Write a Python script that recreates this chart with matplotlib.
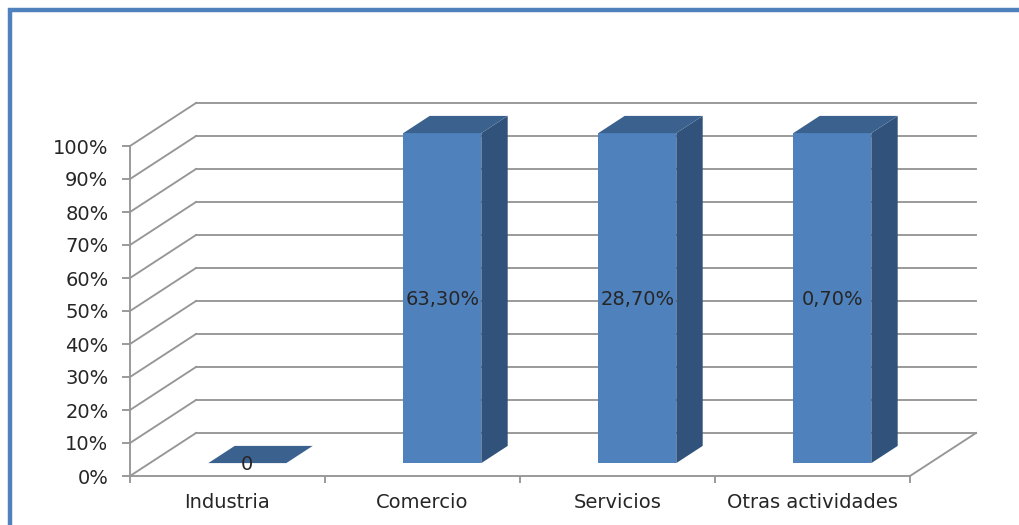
import matplotlib
matplotlib.use("Agg")
import matplotlib.pyplot as plt
from matplotlib.patches import Polygon, Rectangle

# Values
categories = ["Industria", "Comercio", "Servicios", "Otras actividades"]
bar_heights = [0, 100, 100, 100]
bar_labels = ["0", "63,30%", "28,70%", "0,70%"]
pct_ticks = [0, 10, 20, 30, 40, 50, 60, 70, 80, 90, 100]

GRID = "#969696"
FRONT = "#4F81BD"
TOP = "#3B618F"
SIDE = "#31537B"
TEXT = "#262626"
LINE_W = 1.35
FONT_SIZE = 14

# oblique offset of the 3D box, in data units
DEPTH_X = 66 / 195
DEPTH_Y = 43 / 3.3
BAR_WIDTH = 0.4
BAR_NEAR = 0.3
BAR_FAR = 0.7

plt.rcParams["font.family"] = ["DejaVu Sans"]

fig = plt.figure(figsize=(10.2, 5.25), dpi=100, facecolor="white")

# blue frame, runs off the right and bottom of the picture
fig.add_artist(Rectangle((10.5 / 1020, -0.1), 1.2, 1.1 - 10 / 525, transform=fig.transFigure,
                         facecolor="none", edgecolor=FRONT, linewidth=3.2))

ax = fig.add_axes([130 / 1020, 49 / 525, 780 / 1020, 330 / 525])
ax.set_xlim(0, len(categories))
ax.set_ylim(0, 100)
ax.patch.set_visible(False)

# walls
for p in pct_ticks:
    ax.plot([0, DEPTH_X], [p, p + DEPTH_Y], color=GRID, lw=LINE_W, clip_on=False, zorder=1)
    ax.plot([DEPTH_X, len(categories) + DEPTH_X], [p + DEPTH_Y, p + DEPTH_Y],
            color=GRID, lw=LINE_W, clip_on=False, zorder=1)
ax.plot([len(categories), len(categories) + DEPTH_X], [0, DEPTH_Y], color=GRID, lw=LINE_W,
        clip_on=False, zorder=1)

# bars
for i, (h, label) in enumerate(zip(bar_heights, bar_labels)):
    x0 = i + 0.5 - BAR_WIDTH / 2 + BAR_NEAR * DEPTH_X
    x1 = x0 + BAR_WIDTH
    y0 = BAR_NEAR * DEPTH_Y
    y1 = y0 + h
    dx = (BAR_FAR - BAR_NEAR) * DEPTH_X
    dy = (BAR_FAR - BAR_NEAR) * DEPTH_Y
    if h > 0:
        ax.add_patch(Polygon([(x1, y0), (x1 + dx, y0 + dy), (x1 + dx, y1 + dy), (x1, y1)],
                             facecolor=SIDE, edgecolor="none", clip_on=False, zorder=3))
        ax.add_patch(Rectangle((x0, y0), BAR_WIDTH, h, facecolor=FRONT, edgecolor="none",
                               clip_on=False, zorder=3))
    ax.add_patch(Polygon([(x0, y1), (x0 + dx, y1 + dy), (x1 + dx, y1 + dy), (x1, y1)],
                         facecolor=TOP, edgecolor="none", clip_on=False, zorder=3))
    ax.annotate(label, ((x0 + x1) / 2, (y0 + y1) / 2), xytext=(0, -1), textcoords="offset points",
                ha="center", va="center", fontsize=FONT_SIZE, color=TEXT, zorder=5)

# axes
for side in ["top", "right"]:
    ax.spines[side].set_visible(False)
for side in ["left", "bottom"]:
    ax.spines[side].set_color(GRID)
    ax.spines[side].set_linewidth(LINE_W)
    ax.spines[side].set_zorder(2)

ax.set_yticks(pct_ticks)
ax.set_yticklabels([f"{p}%" for p in pct_ticks])
ax.tick_params(axis="y", direction="out", length=5.5, width=LINE_W, color=GRID, pad=10,
               labelsize=FONT_SIZE, labelcolor=TEXT)

ax.set_xticks(range(len(categories) + 1))
ax.set_xticklabels([])
ax.tick_params(axis="x", which="major", direction="out", length=5, width=LINE_W, color=GRID)
ax.set_xticks([i + 0.5 for i in range(len(categories))], minor=True)
ax.set_xticklabels(categories, minor=True)
ax.tick_params(axis="x", which="minor", length=0, pad=12, labelsize=FONT_SIZE, labelcolor=TEXT)

fig.savefig("out.png", dpi=100)
